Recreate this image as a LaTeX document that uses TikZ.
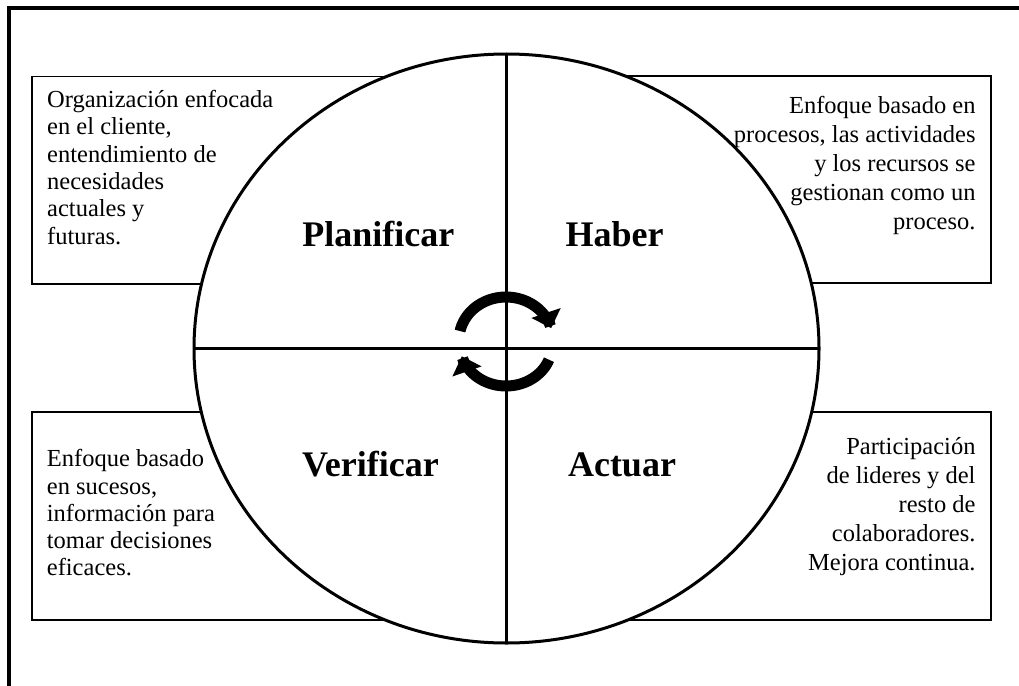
\documentclass[tikz,border=0pt]{standalone}
\usepackage{fontspec}
\setmainfont{Liberation Serif}
\usetikzlibrary{arrows.meta,shapes.geometric}
\begin{document}
\begin{tikzpicture}[x=1pt,y=-1pt,
  frameline/.style={line width=4pt},
  infobox/.style={draw, line width=1.8pt},
  ring/.style={draw, fill=white, line width=3pt, ellipse, inner sep=0pt, outer sep=0pt,
    minimum width=625pt, minimum height=589pt},
  quad/.style={line width=2.8pt},
  cyc/.style={line width=11pt, line cap=butt, -{Triangle[width=30pt 0, length=16pt 0]}},
  lbl/.style={font=\fontsize{36}{40}\selectfont\bfseries, anchor=base, inner sep=0pt},
  txtL/.style={font=\fontsize{24.5}{27.3}\selectfont, anchor=base west, inner sep=0pt},
  txtR/.style={font=\fontsize{24.5}{29.2}\selectfont, anchor=base east, inner sep=0pt}]
\useasboundingbox (0,0) rectangle (1019,685);
% outer frame (partly outside the page)
\draw[frameline] (8.5,690) -- (8.5,8.5) -- (1025,8.5);
% information boxes (partly hidden behind the ring)
\draw[infobox] (32,76.5) rectangle (420,284);
\draw[infobox] (600,76) rectangle (991,283);
\draw[infobox] (32,412) rectangle (420,620);
\draw[infobox] (600,412) rectangle (991,620);
% ring
\node[ring] (c) at (506.5,348.5) {};
\draw[quad] (c.west) -- (c.east);
\draw[quad] (c.north) -- (c.south);
% cycle arrows
\draw[cyc] plot[smooth, domain=168:16, samples=40] ({506+47*cos(\x)},{340-43*sin(\x)});
\draw[cyc] plot[smooth, domain=-21:-164, samples=40] ({506+46*cos(\x)},{345-41*sin(\x)});
% quadrant labels
\node[lbl] (plan) at (378.4,246) {Planificar};
\node[lbl] (hab) at (614.5,246) {Haber};
\node[lbl] (ver) at (370.5,476) {Verificar};
\node[lbl] (act) at (622,476) {Actuar};
% texts
\node[txtL] (tl) at (47,107.5) {\begin{tabular}[t]{@{}l@{}}Organización enfocada\\ en el cliente,\\ entendimiento de\\ necesidades\\ actuales y\\ futuras.\end{tabular}};
\node[txtR] (tr) at (975.7,113) {\begin{tabular}[t]{@{}r@{}}Enfoque basado en\\ procesos, las actividades\\ y los recursos se\\ gestionan como un\\ proceso.\end{tabular}};
\node[txtL] (bl) at (46.7,466.7) {\begin{tabular}[t]{@{}l@{}}Enfoque basado\\ en sucesos,\\ información para\\ tomar decisiones\\ eficaces.\end{tabular}};
\node[txtR] (br) at (975.7,454) {\begin{tabular}[t]{@{}r@{}}Participación\\ de lideres y del\\ resto de\\ colaboradores.\\ Mejora continua.\end{tabular}};
\end{tikzpicture}
\end{document}
